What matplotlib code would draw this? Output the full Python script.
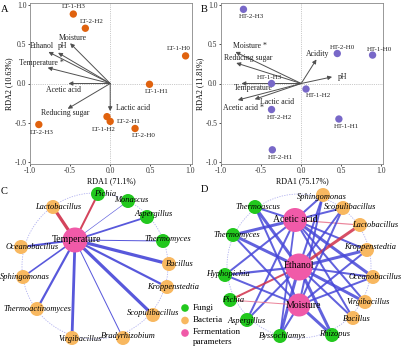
import numpy as np
import matplotlib
matplotlib.use("Agg")
import matplotlib.pyplot as plt
from matplotlib.patches import Circle

plt.rcParams['font.family'] = ['Liberation Serif', 'DejaVu Serif']

# ---------------- data: RDA panels ----------------
lt_sites = ["LT-1-H3", "LT-2-H2", "LT-1-H0", "LT-1-H1", "LT-2-H3", "LT-1-H2", "LT-2-H1", "LT-2-H0"]
lt_x = [-0.46, -0.31, 0.94, 0.49, -0.89, -0.04, 0.00, 0.31]
lt_y = [0.88, 0.70, 0.35, -0.01, -0.52, -0.42, -0.48, -0.57]

lt_vars = ["Moisture", "Ethanol", "pH", "Temperature *", "Acetic acid", "Reducing sugar", "Lactic acid"]
lt_vx = [-0.50, -0.77, -0.65, -0.78, -0.52, -0.53, 0.00]
lt_vy = [0.51, 0.40, 0.39, 0.20, 0.00, -0.32, -0.35]

ht_sites = ["HT-2-H3", "HT-2-H0", "HT-1-H0", "HT-1-H3", "HT-1-H2", "HT-2-H2", "HT-1-H1", "HT-2-H1"]
ht_x = [-0.72, 0.45, 0.89, -0.37, 0.06, -0.37, 0.47, -0.36]
ht_y = [0.94, 0.38, 0.36, 0.00, -0.07, -0.33, -0.45, -0.84]

ht_vars = ["Moisture *", "Reducing sugar", "Acidity", "pH", "Temperature", "Acetic acid *", "Lactic acid"]
ht_vx = [-0.82, -0.81, 0.19, 0.385, -0.745, -0.79, -0.58]
ht_vy = [0.40, 0.26, 0.305, 0.084, 0.00, -0.21, -0.20]

# ---------------- data: networks ----------------
c_nodes = ["Temperature", "Pichia", "Monascus", "Aspergillus", "Thermomyces", "Bacillus",
           "Kroppenstedtia", "Scopulibacillus", "Bradyrhizobium", "Virgibacillus",
           "Thermoactinomyces", "Sphingomonas", "Oceanobacillus", "Lactobacillus"]
c_group = ["param", "fungi", "fungi", "fungi", "fungi", "bact", "bact", "bact", "bact", "bact",
           "bact", "bact", "bact", "bact"]
# (target, weight, sign) all linked to Temperature
c_edges = [("Pichia", 2.0, -1), ("Monascus", 0.6, 1), ("Aspergillus", 1.8, 1), ("Thermomyces", 1.0, 1),
           ("Bacillus", 3.2, 1), ("Kroppenstedtia", 2.2, 1), ("Scopulibacillus", 3.2, 1),
           ("Bradyrhizobium", 1.0, 1), ("Virgibacillus", 2.8, 1), ("Thermoactinomyces", 2.2, 1),
           ("Sphingomonas", 1.6, 1), ("Oceanobacillus", 2.0, 1), ("Lactobacillus", 3.2, -1)]

d_nodes = ["Acetic acid", "Ethanol", "Moisture", "Thermoascus", "Thermomyces", "Hyphopichia", "Pichia",
           "Aspergillus", "Byssochlamys", "Rhizopus", "Bacillus", "Virgibacillus", "Oceanobacillus",
           "Kroppenstedtia", "Lactobacillus", "Scopulibacillus", "Sphingomonas"]
d_group = ["param", "param", "param", "fungi", "fungi", "fungi", "fungi", "fungi", "fungi", "fungi",
           "bact", "bact", "bact", "bact", "bact", "bact", "bact"]
d_edges = [("Acetic acid", "Thermoascus", 2.0, 1), ("Acetic acid", "Thermomyces", 3.0, 1),
           ("Acetic acid", "Hyphopichia", 2.0, 1), ("Acetic acid", "Aspergillus", 2.0, 1),
           ("Acetic acid", "Byssochlamys", 1.8, 1), ("Acetic acid", "Sphingomonas", 2.0, 1),
           ("Acetic acid", "Scopulibacillus", 2.0, 1), ("Acetic acid", "Lactobacillus", 1.2, -1),
           ("Acetic acid", "Kroppenstedtia", 2.0, 1), ("Acetic acid", "Oceanobacillus", 3.0, 1),
           ("Acetic acid", "Virgibacillus", 2.0, 1), ("Acetic acid", "Bacillus", 2.0, 1),
           ("Ethanol", "Thermoascus", 3.0, 1), ("Ethanol", "Thermomyces", 3.0, 1),
           ("Ethanol", "Hyphopichia", 2.2, 1), ("Ethanol", "Pichia", 2.0, -1),
           ("Ethanol", "Aspergillus", 2.0, 1), ("Ethanol", "Byssochlamys", 3.0, 1),
           ("Ethanol", "Rhizopus", 3.0, 1), ("Ethanol", "Bacillus", 2.0, 1),
           ("Ethanol", "Virgibacillus", 3.0, 1), ("Ethanol", "Oceanobacillus", 2.0, 1),
           ("Ethanol", "Kroppenstedtia", 3.0, 1), ("Ethanol", "Lactobacillus", 3.0, -1),
           ("Ethanol", "Scopulibacillus", 2.0, 1), ("Ethanol", "Sphingomonas", 2.0, 1),
           ("Moisture", "Thermoascus", 2.0, 1), ("Moisture", "Thermomyces", 2.0, 1),
           ("Moisture", "Hyphopichia", 2.0, 1), ("Moisture", "Pichia", 1.0, -1),
           ("Moisture", "Byssochlamys", 2.0, 1), ("Moisture", "Rhizopus", 3.0, 1),
           ("Moisture", "Sphingomonas", 2.0, 1), ("Moisture", "Scopulibacillus", 2.0, 1),
           ("Moisture", "Kroppenstedtia", 2.0, 1), ("Moisture", "Oceanobacillus", 2.0, 1)]

# ---------------- layout (pixel coords) ----------------
c_pos = {"Temperature": (75, 240), "Pichia": (98, 194), "Monascus": (128, 201), "Aspergillus": (147, 217),
         "Thermomyces": (163, 241), "Bacillus": (169, 264), "Kroppenstedtia": (167, 287),
         "Scopulibacillus": (153, 315), "Bradyrhizobium": (123, 338), "Virgibacillus": (72, 338),
         "Thermoactinomyces": (37, 309), "Sphingomonas": (23, 277), "Oceanobacillus": (21, 247),
         "Lactobacillus": (53, 207)}
c_lab = {"Temperature": (77, 240), "Pichia": (105, 194), "Monascus": (131, 200), "Aspergillus": (154, 214),
         "Thermomyces": (168, 239), "Bacillus": (180, 264), "Kroppenstedtia": (173, 287),
         "Scopulibacillus": (153, 313), "Bradyrhizobium": (128, 336), "Virgibacillus": (80, 339),
         "Thermoactinomyces": (37, 309), "Sphingomonas": (25, 277), "Oceanobacillus": (32, 247),
         "Lactobacillus": (58, 207)}
d_pos = {"Acetic acid": (295, 220), "Ethanol": (299, 267), "Moisture": (299, 305),
         "Thermoascus": (255, 207), "Thermomyces": (233, 235), "Hyphopichia": (225, 275),
         "Pichia": (230, 300), "Aspergillus": (247, 320), "Byssochlamys": (280, 336),
         "Rhizopus": (332, 335), "Bacillus": (353, 318), "Virgibacillus": (365, 302),
         "Oceanobacillus": (373, 277), "Kroppenstedtia": (367, 250), "Lactobacillus": (360, 225),
         "Scopulibacillus": (343, 208), "Sphingomonas": (323, 195)}
d_lab = {"Acetic acid": (295, 220), "Ethanol": (299, 266), "Moisture": (303, 305),
         "Thermoascus": (258, 207), "Thermomyces": (237, 235), "Hyphopichia": (228, 274),
         "Pichia": (233, 300), "Aspergillus": (247, 321), "Byssochlamys": (283, 336),
         "Rhizopus": (335, 334), "Bacillus": (357, 319), "Virgibacillus": (368, 302),
         "Oceanobacillus": (375, 277), "Kroppenstedtia": (370, 247), "Lactobacillus": (375, 225),
         "Scopulibacillus": (350, 207), "Sphingomonas": (322, 197)}

colors = {"fungi": "#22c81e", "bact": "#f8b860", "param": "#f05aa8"}
W, H = 402, 348

fig = plt.figure(figsize=(W / 100, H / 100), dpi=100)


def rda_panel(rect, xs, ys, names, vx, vy, vnames, pcol, xlab, ylab, letter, pt_off, var_off):
    ax = fig.add_axes(rect)
    ax.set_xlim(-1.0, 1.02)
    ax.set_ylim(-1.02, 1.02)
    ax.axhline(0, color="#999999", lw=0.5, ls=":")
    ax.axvline(0, color="#999999", lw=0.5, ls=":")
    for x, y, n in zip(vx, vy, vnames):
        ax.annotate("", xy=(x, y), xytext=(0, 0),
                    arrowprops=dict(arrowstyle="-|>", color="#505050", lw=0.7, mutation_scale=6,
                                    shrinkA=0, shrinkB=0))
        dx, dy = var_off[n]
        ax.text(x + dx, y + dy, n, fontsize=5.6, ha="center", va="center", color="#222222")
    ax.scatter(xs, ys, s=28, color=pcol, zorder=3, edgecolors="none")
    for x, y, n in zip(xs, ys, names):
        dx, dy = pt_off[n]
        ax.text(x + dx, y + dy, n, fontsize=5.0, ha="center", va="center", color="#222222")
    ax.set_xticks([-1.0, -0.5, 0.0, 0.5, 1.0])
    ax.set_yticks([-1.0, -0.5, 0.0, 0.5, 1.0])
    ax.xaxis.set_major_formatter(matplotlib.ticker.FormatStrFormatter("%.1f"))
    ax.yaxis.set_major_formatter(matplotlib.ticker.FormatStrFormatter("%.1f"))
    ax.tick_params(labelsize=5.5, length=1.5, width=0.6, pad=1, colors="#333333")
    for s in ax.spines.values():
        s.set_color("#888888")
        s.set_linewidth(0.6)
    ax.set_xlabel(xlab, fontsize=5.8, labelpad=1)
    ax.set_ylabel(ylab, fontsize=5.8, labelpad=1)
    return ax


lt_pt_off = {"LT-1-H3": (0.0, 0.09), "LT-2-H2": (0.08, 0.09), "LT-1-H0": (-0.09, 0.09),
             "LT-1-H1": (0.09, -0.09), "LT-2-H3": (0.04, -0.10), "LT-1-H2": (-0.04, -0.16),
             "LT-2-H1": (0.23, 0.0), "LT-2-H0": (0.11, -0.09)}
lt_var_off = {"Moisture": (0.03, 0.07), "Ethanol": (-0.08, 0.07), "pH": (0.05, 0.08),
              "Temperature *": (-0.08, 0.06), "Acetic acid": (-0.06, -0.08),
              "Reducing sugar": (-0.03, -0.05), "Lactic acid": (0.29, 0.04)}
ht_pt_off = {"HT-2-H3": (0.10, -0.09), "HT-2-H0": (0.06, 0.08), "HT-1-H0": (0.08, 0.07),
             "HT-1-H3": (-0.02, 0.075), "HT-1-H2": (0.16, -0.085), "HT-2-H2": (0.10, -0.10),
             "HT-1-H1": (0.10, -0.09), "HT-2-H1": (0.10, -0.095)}
ht_var_off = {"Moisture *": (0.18, 0.07), "Reducing sugar": (0.15, 0.06), "Acidity": (0.02, 0.065),
              "pH": (0.125, 0.0), "Temperature": (0.145, -0.06), "Acetic acid *": (0.07, -0.10),
              "Lactic acid": (0.28, -0.03)}

rda_panel([30 / W, 1 - 164 / H, 162 / W, 161 / H], lt_x, lt_y, lt_sites, lt_vx, lt_vy, lt_vars,
          "#e0620e", "RDA1 (71.1%)", "RDA2 (10.63%)", "A", lt_pt_off, lt_var_off)
rda_panel([221 / W, 1 - 164 / H, 162 / W, 161 / H], ht_x, ht_y, ht_sites, ht_vx, ht_vy, ht_vars,
          "#7868c8", "RDA1 (75.17%)", "RDA2 (11.81%)", "B", ht_pt_off, ht_var_off)

# ---------------- networks on pixel overlay ----------------
net = fig.add_axes([0, 0, 1, 1], zorder=-1)
net.set_xlim(0, W)
net.set_ylim(H, 0)
net.axis("off")

px = 0.72  # points per pixel


def edge_color(sign):
    return "#4646d8" if sign > 0 else "#d0304a"


# panel C
net.add_patch(Circle((95, 266), 73, fill=False, ec="#b0b0f0", lw=0.6, ls=(0, (1.5, 1.5))))
for tgt, w, sg in c_edges:
    x0, y0 = c_pos["Temperature"]
    x1, y1 = c_pos[tgt]
    net.plot([x0, x1], [y0, y1], color=edge_color(sg), lw=w * px, alpha=0.9, solid_capstyle="butt")
for n, g in zip(c_nodes, c_group):
    r = 12.5 if g == "param" else 7
    net.add_patch(Circle(c_pos[n], r, color=colors[g], ec="none", zorder=3))
for n, g in zip(c_nodes, c_group):
    lx, ly = c_lab[n]
    if g == "param":
        net.text(lx, ly, n, fontsize=7, ha="center", va="center", zorder=4)
    else:
        net.text(lx, ly, n, fontsize=6, style="italic", ha="center", va="center", zorder=4)

# panel D
net.add_patch(Circle((299, 266), 72, fill=False, ec="#b0b0f0", lw=0.6, ls=(0, (1.5, 1.5))))
for a, b, w, sg in d_edges:
    x0, y0 = d_pos[a]
    x1, y1 = d_pos[b]
    col = edge_color(sg)
    if sg < 0 and w < 1.5:
        col = "#e8708a"
    net.plot([x0, x1], [y0, y1], color=col, lw=w * px, alpha=0.85, solid_capstyle="butt")
param_r = {"Acetic acid": 12, "Ethanol": 13.5, "Moisture": 11.5}
for n, g in zip(d_nodes, d_group):
    r = param_r[n] if g == "param" else 7
    net.add_patch(Circle(d_pos[n], r, color=colors[g], ec="none", zorder=3))
for n, g in zip(d_nodes, d_group):
    lx, ly = d_lab[n]
    if g == "param":
        net.text(lx, ly, n, fontsize=7, ha="center", va="center", zorder=4)
    else:
        net.text(lx, ly, n, fontsize=6, style="italic", ha="center", va="center", zorder=4)

# legend
leg_names = ["Fungi", "Bacteria", "Fermentation\nparameters"]
leg_groups = ["fungi", "bact", "param"]
for i, (nm, g) in enumerate(zip(leg_names, leg_groups)):
    y = 308 + i * 12.5
    net.add_patch(Circle((185, y), 3.8, color=colors[g], ec="none"))
    net.text(193, y - 4.5 if i == 2 else y, nm, fontsize=6.5, ha="left", va="top" if i == 2 else "center",
             linespacing=1.2)

# panel letters
for lab, x, y in [("A", 5, 10), ("B", 204, 10), ("C", 4, 191), ("D", 204, 190)]:
    net.text(x, y, lab, fontsize=7.5, ha="center", va="center")

fig.savefig("out.png", dpi=100)
